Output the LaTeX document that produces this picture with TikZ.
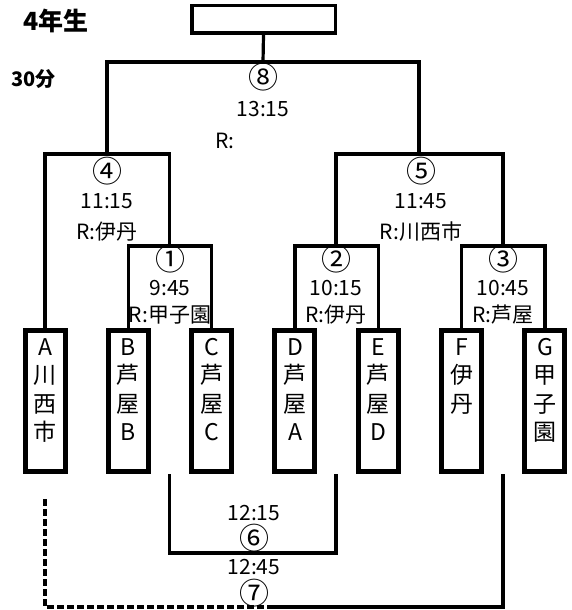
\documentclass[tikz,border=0pt]{standalone}
\usepackage{fontspec}
\setmainfont{Noto Sans CJK JP}
\usetikzlibrary{positioning}
\tikzset{
  teambox/.style={draw, line width=5pt, minimum width=40pt, minimum height=141pt, inner sep=0pt},
  teamtxt/.style={anchor=north, align=center, inner sep=0pt, font=\fontsize{23}{28.5}\selectfont},
  bracket/.style={line width=3.2pt},
  lbl/.style={inner sep=0pt, font=\fontsize{21}{24}\selectfont},
  circnum/.style={inner sep=0pt, font=\fontsize{30}{30}\selectfont},
}
\begin{document}
\begin{tikzpicture}[x=1pt, y=-1pt]
      \useasboundingbox (0,0) rectangle (572,610);
      % heading
      \node[inner sep=0pt, font=\bfseries\fontsize{25}{25}\selectfont] (grade) at (56,21) {4年生};
      \node[inner sep=0pt, font=\bfseries\fontsize{20}{20}\selectfont] (dur) at (33.5,79) {30分};
      % winner box
      \node[draw, line width=3.5pt, minimum width=143.5pt, minimum height=27.5pt, inner sep=0pt] (champ) at (263.5,19.5) {};
      % team boxes
      \foreach \i/\nm/\txt in {
        0/A/{A\\川\\西\\市},
        1/B/{B\\芦\\屋\\B},
        2/C/{C\\芦\\屋\\C},
        3/D/{D\\芦\\屋\\A},
        4/E/{E\\芦\\屋\\D},
        5/F/{F\\伊\\丹},
        6/G/{G\\甲\\子\\園}%
      }{
        \pgfmathsetmacro\x{45+\i*83.33}
        \node[teambox] (\nm) at (\x,401) {};
        \node[teamtxt] (\nm txt) at ([yshift=-10pt]\nm.north) {\txt};
      }
      % bracket tops
      \coordinate (m1) at (169.5,246);
      \coordinate (m2) at (336,246);
      \coordinate (m3) at (503,246);
      \coordinate (m4) at (107,154);
      \coordinate (m5) at (419,154);
      \coordinate (m8) at (263,62);
      \draw[bracket] (B.north) |- (m1) -| (C.north);
      \draw[bracket] (D.north) |- (m2) -| (E.north);
      \draw[bracket] (F.north) |- (m3) -| (G.north);
      \draw[bracket] (A.north) |- (m4) -| (m1);
      \draw[bracket] (m2) |- (m5) -| (m3);
      \draw[bracket] (m4) |- (m8) -| (m5);
      \draw[bracket] (m8) -- (champ.south);
      % lower brackets
      \coordinate (s1) at (m1 |- B.south);
      \coordinate (s2) at (m2 |- D.south);
      \coordinate (s3) at (m3 |- F.south);
      \coordinate (m6) at (252.5,553);
      \coordinate (d7) at (45,499);
      \coordinate (m7) at (267,607);
      \draw[bracket] (s1) |- (m6) -| (s2);
      \draw[bracket, dash pattern=on 7pt off 3pt] (d7) |- (m7);
      \draw[bracket] (m7) -| (s3);
      % match labels
      \foreach \nm/\x/\yn/\yt/\yr/\num/\tm/\rf in {
        4/107/171/201/232/④/11:15/伊丹,
        5/421/171/201/232/⑤/11:45/川西市,
        1/170/259/288/315/①/9:45/甲子園,
        2/336/259/288/315/②/10:15/伊丹,
        3/503/259/288/315/③/10:45/芦屋%
      }{
        \node[circnum] (n\nm) at (\x,\yn) {\num};
        \node[lbl] (tm\nm) at (\x,\yt) {\tm};
        \node[lbl] (rf\nm) at (\x,\yr) {R:\rf};
      }
      \node[circnum] (n8) at (263,77) {⑧};
      \node[lbl] (tm8) at (263,109) {13:15};
      \node[lbl, anchor=west] (rf8) at (215,141) {R:};
      \node[lbl] (tm6) at (254,513) {12:15};
      \node[circnum] (n6) at (254,538) {⑥};
      \node[lbl] (tm7) at (254,567) {12:45};
      \node[circnum] (n7) at (254,593) {⑦};
    \end{tikzpicture}
\end{document}
